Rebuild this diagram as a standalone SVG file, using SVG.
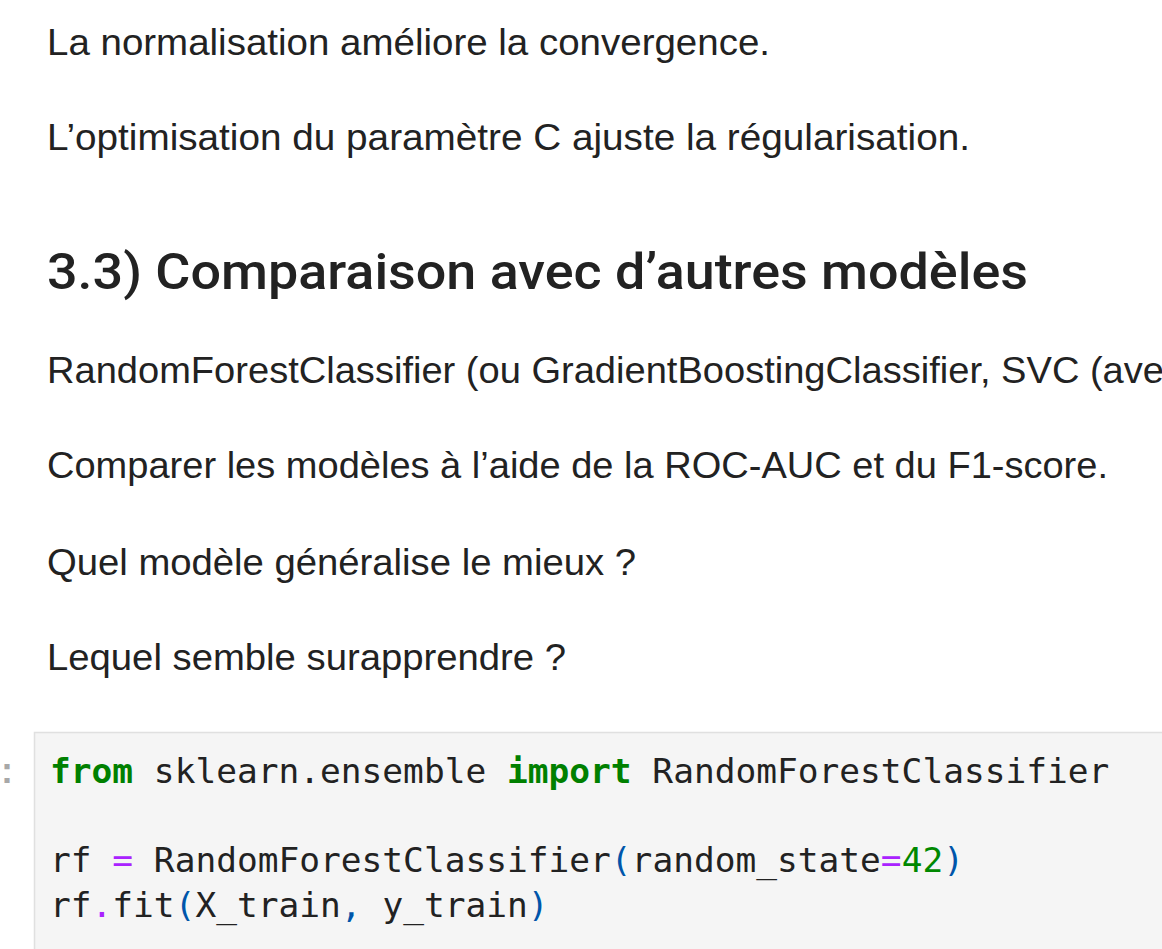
<svg xmlns="http://www.w3.org/2000/svg" width="1162" height="949" viewBox="0 0 1162 949">
<style>
.p{font-family:"Liberation Sans",Arial,sans-serif;font-size:37px;fill:#222}
.h{font-family:Roboto,"Liberation Sans",Arial,sans-serif;font-size:50px;font-weight:500;fill:#222}
.c{font-family:"DejaVu Sans Mono",monospace;font-size:34.5px;fill:#222}
.kw{fill:#008000;font-weight:bold}
.op{fill:#aa22ff}
.pu{fill:#0055aa}
.nu{fill:#008800}
.pr{font-family:"Liberation Sans",Arial,sans-serif;font-size:36px;font-weight:bold;fill:#a8a8a8}
</style>
<rect width="1162" height="949" fill="#ffffff"/>
<g id="prose">
<text class="p" x="47" y="55" textLength="723" lengthAdjust="spacingAndGlyphs">La normalisation améliore la convergence.</text>
<text class="p" x="47" y="150" textLength="923" lengthAdjust="spacingAndGlyphs">L’optimisation du paramètre C ajuste la régularisation.</text>
<text class="h" x="47" y="289" textLength="981" lengthAdjust="spacingAndGlyphs">3.3) Comparaison avec d’autres modèles</text>
<text class="p" x="47" y="383" textLength="1117" lengthAdjust="spacingAndGlyphs">RandomForestClassifier (ou GradientBoostingClassifier, SVC (ave</text>
<text class="p" x="47" y="478" textLength="1061" lengthAdjust="spacingAndGlyphs">Comparer les modèles à l’aide de la ROC-AUC et du F1-score.</text>
<text class="p" x="47" y="575" textLength="589" lengthAdjust="spacingAndGlyphs">Quel modèle généralise le mieux ?</text>
<text class="p" x="47" y="670" textLength="519" lengthAdjust="spacingAndGlyphs">Lequel semble surapprendre ?</text>
</g>
<g id="code-cell">
<text class="pr" x="1" y="783">:</text>
<rect x="34.5" y="732.5" width="1140" height="230" fill="#f5f5f5" stroke="#e0e0e0" stroke-width="1.5"/>
<text class="c" x="50" y="783" xml:space="preserve"><tspan class="kw">from</tspan> sklearn.ensemble <tspan class="kw">import</tspan> RandomForestClassifier</text>
<text class="c" x="50" y="872" xml:space="preserve">rf <tspan class="op">=</tspan> RandomForestClassifier<tspan class="pu">(</tspan>random_state<tspan class="op">=</tspan><tspan class="nu">42</tspan><tspan class="pu">)</tspan></text>
<text class="c" x="50" y="917" xml:space="preserve">rf<tspan class="op">.</tspan>fit<tspan class="pu">(</tspan>X_train<tspan class="pu">,</tspan> y_train<tspan class="pu">)</tspan></text>
</g>
</svg>
